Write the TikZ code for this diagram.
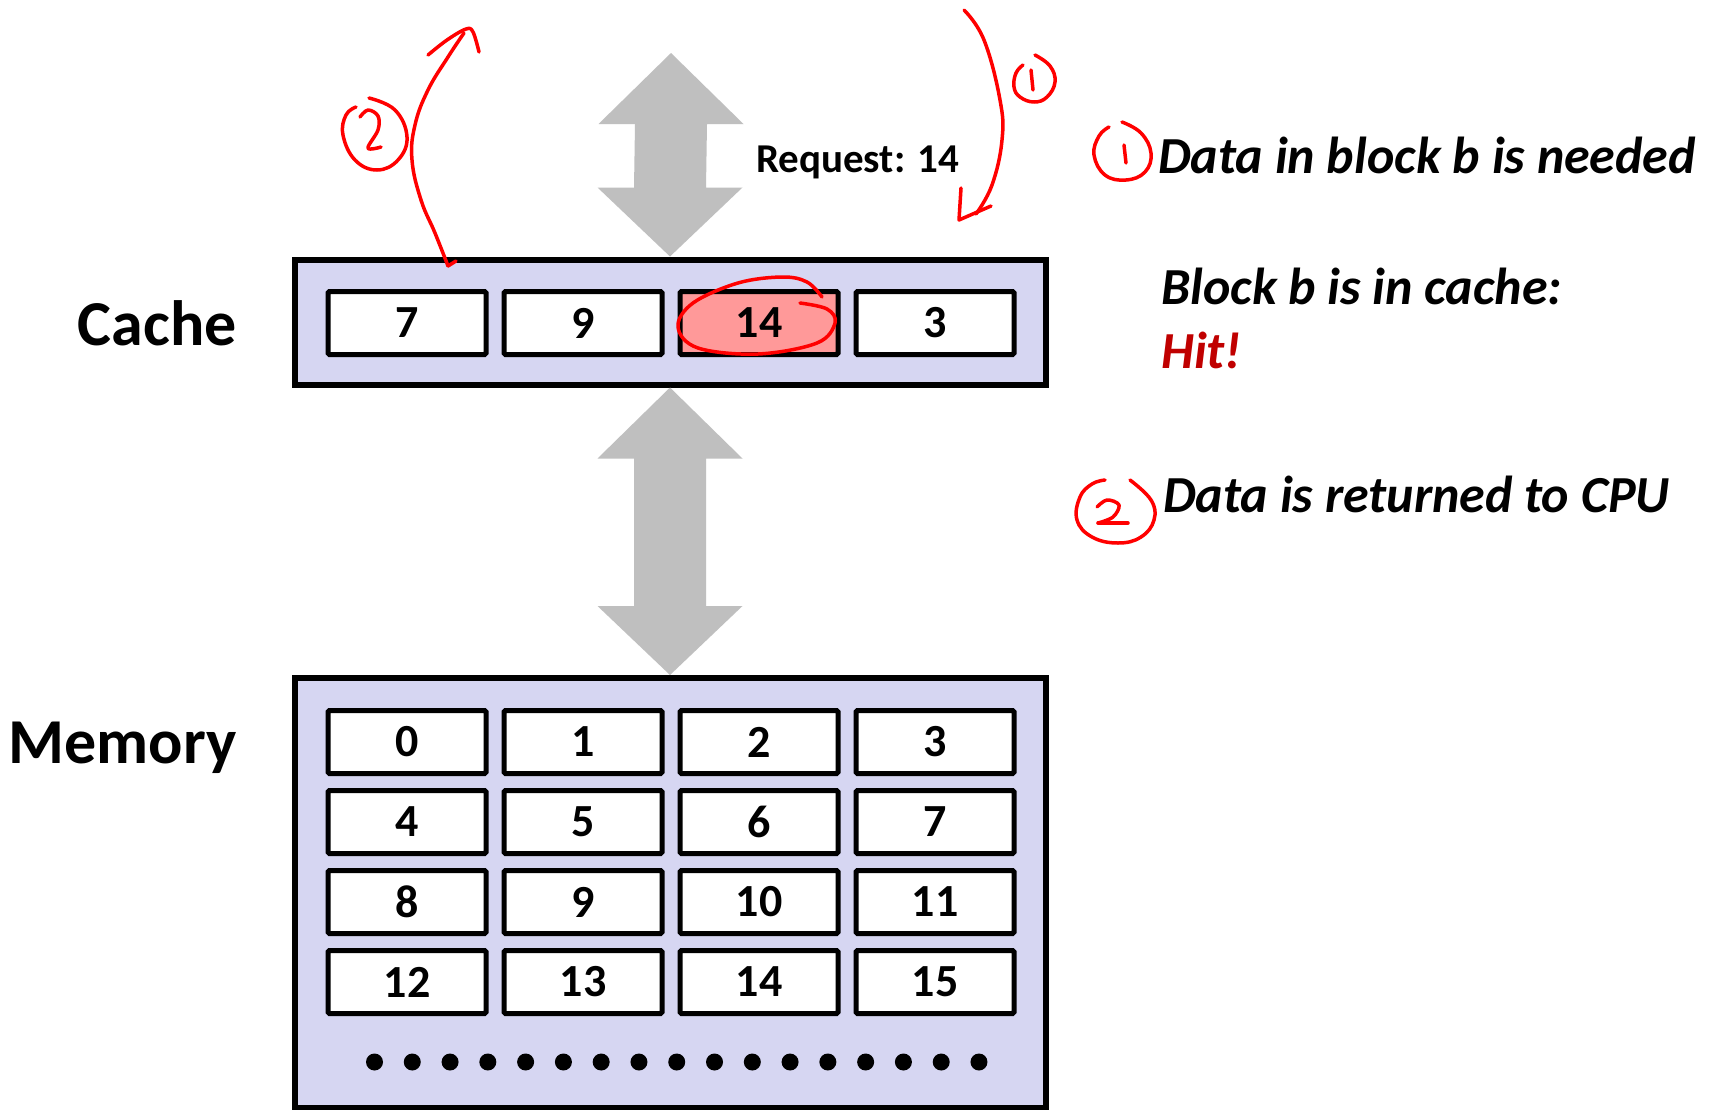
\documentclass[tikz,border=0pt]{standalone}
\usepackage{fontspec}
\setmainfont{Carlito}
\usetikzlibrary{calc}
\definecolor{boxfill}{RGB}{214,214,242}
\definecolor{hitfill}{RGB}{255,153,153}
\definecolor{arrowgray}{RGB}{191,191,191}
\definecolor{hitred}{RGB}{192,0,0}
\definecolor{penred}{RGB}{255,0,0}
\newcommand\grayarrow[2]{%
  \fill[arrowgray] (#1) -- ($(#1)+(72.5,71)$) -- ($(#1)+(36,71)$) -- ($(#2)+(36,-69)$)
    -- ($(#2)+(72.5,-69)$) -- (#2) -- ($(#2)+(-72.5,-69)$) -- ($(#2)+(-36,-69)$)
    -- ($(#1)+(-36,71)$) -- ($(#1)+(-72.5,71)$) -- cycle;}
\begin{document}
\begin{tikzpicture}[x=1pt,y=-1pt,
  cell/.style={draw=black,line width=5pt,fill=white,minimum width=158pt,minimum height=63pt,
    inner sep=0pt,rounded corners=1.5pt,font=\fontsize{46}{46}\selectfont\bfseries},
  bigbox/.style={draw=black,line width=6pt,fill=boxfill,minimum width=751pt,inner sep=0pt},
  pen/.style={draw=penred,line width=3.5pt,line cap=round,line join=round},
  biglabel/.style={font=\fontsize{64}{64}\selectfont\bfseries,anchor=base east,inner sep=0pt},
  note/.style={font=\fontsize{52}{52}\selectfont\bfseries\itshape,anchor=base west,inner sep=0pt}]
\useasboundingbox[fill=white] (0,0) rectangle (1713,1109);

% boxes
\node[bigbox,minimum height=125pt] (cache) at (670,322) {};
\node[bigbox,minimum height=430pt] (mem) at (670,893) {};

% cache cells
\node[cell] (c0) at (407,323) {7};
\node[cell] (c1) at (583,323) {9};
\node[cell,fill=hitfill] (c2) at (759,323) {14};
\node[cell] (c3) at (935,323) {3};

% memory cells
\foreach \r in {0,...,3}{
  \foreach \c in {0,...,3}{
    \pgfmathtruncatemacro\n{4*\r+\c}
    \node[cell] (m\n) at ({407+176*\c},{742+80*\r}) {\n};
  }}
\foreach \i in {0,...,16}
  \fill (374.5+37.78*\i,1062) circle (8.5);

% gray double arrows
\coordinate (cpu) at (671,53);
\grayarrow{cpu}{cache.north}
\grayarrow{cache.south}{mem.north}

% labels
\node[biglabel] (cachelbl) at (237,345) {Cache};
\node[biglabel] (memlbl) at (237,763) {Memory};
\node[font=\fontsize{41}{41}\selectfont\bfseries,anchor=base west,inner sep=0pt] (req) at (756,172) {Request: 14};
\node[note] (n1) at (1158,173) {Data in block b is needed};
\node[note] (n2) at (1161,304) {Block b is in cache:};
\node[note,text=hitred] (n3) at (1161,368) {Hit!};
\node[note] (n4) at (1163,512) {Data is returned to CPU};

% red pen: request arrow (1)
\coordinate (r1s) at (964,10);
\coordinate (r1e) at (976,214);
\draw[pen] plot[smooth,tension=0.7] coordinates {(r1s) (984,40) (1000,100) (1002,140) (992,185) (r1e)};
\draw[pen] (961,188) -- (959,220) -- (991,206);
% small circled 1 near arrow
\draw[pen] plot[smooth,tension=0.7] coordinates {(1035,55) (1050,66) (1055,82) (1047,97) (1034,102) (1020,97) (1014,87) (1016,73) (1023,65)};
\draw[pen] (1031,70) -- (1033,90);

% red pen: return arrow (2)
\coordinate (r2s) at (448,266);
\coordinate (r2e) at (464,33);
\draw[pen] plot[smooth,tension=0.7] coordinates {(r2s) (435,233) (421,200) (412,160) (415,125) (428,90) (448,57) (r2e)};
\draw[pen] (448,266) -- (456,261);
\draw[pen] plot[smooth,tension=0.6] coordinates {(428,55) (447,40) (466,29) (473,32) (479,52)};
% small circled 2 near arrow
\draw[pen] plot[smooth,tension=0.7] coordinates {(369,98) (395,110) (407,137) (398,160) (377,170) (355,160) (343,135) (346,115) (356,107)};
\draw[pen] plot[smooth,tension=0.6] coordinates {(360,117) (368,110) (378,116) (378,130) (368,148) (381,147)};

% red ellipse around 14
\draw[pen] plot[smooth,tension=0.6] coordinates {(800,303) (827,309) (835,323) (817,343) (758,354) (698,348) (678,327) (693,303) (738,283) (782,277) (807,282) (822,297)};

% circled numbers beside the notes
\draw[pen] plot[smooth,tension=0.7] coordinates {(1122,122) (1141,133) (1151,153) (1145,172) (1126,180) (1105,175) (1094,155) (1099,136) (1109,127)};
\draw[pen] (1124,145) -- (1126,163);
\draw[pen] plot[smooth,tension=0.7] coordinates {(1130,480) (1151,500) (1154,520) (1141,537) (1118,543) (1092,537) (1077,520) (1080,497) (1092,484) (1105,480)};
\draw[pen] plot[smooth,tension=0.6] coordinates {(1097,507) (1107,500) (1119,505) (1113,517) (1098,523)};
\draw[pen] (1098,523) -- (1128,523);
\end{tikzpicture}
\end{document}
